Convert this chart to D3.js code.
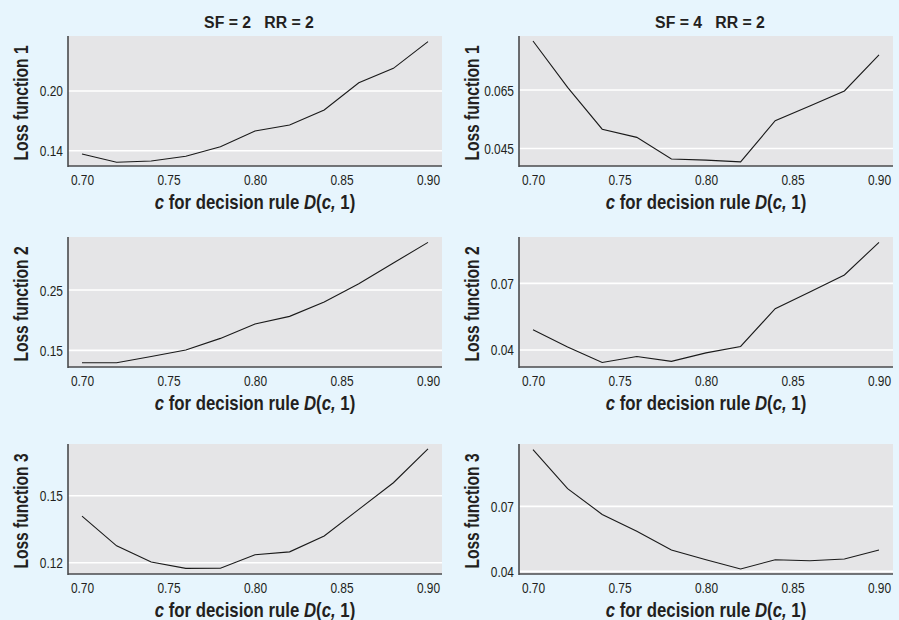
<!DOCTYPE html>
<html>
<head>
<meta charset="utf-8">
<script src="https://cdn.jsdelivr.net/npm/d3@7"></script>
<style>
  html, body { margin: 0; padding: 0; background: #e7f5fd; }
  svg { display: block; }
  text { font-family: "Liberation Sans", Arial, sans-serif; fill: #231f20; }
</style>
</head>
<body>
<svg id="chart" width="899" height="620"></svg>
<script>
// Decision threshold c
const cValues = [0.70, 0.72, 0.74, 0.76, 0.78, 0.80, 0.82, 0.84, 0.86, 0.88, 0.90];
const xTicks = [0.70, 0.75, 0.80, 0.85, 0.90];

// Column headers and row titles
const columnTitles = ["SF = 2   RR = 2", "SF = 4   RR = 2"];
const rowLabels = ["Loss function 1", "Loss function 2", "Loss function 3"];

// Expected loss for each scenario (SF = 2 column, SF = 4 column)
const loss1SF2 = [0.1367, 0.1283, 0.1296, 0.1344, 0.1440, 0.1598, 0.1658, 0.1809, 0.2083, 0.2228, 0.2496];
const loss1SF4 = [0.0818, 0.0659, 0.0516, 0.0488, 0.0414, 0.0410, 0.0404, 0.0545, 0.0595, 0.0647, 0.0770];
const loss2SF2 = [0.1296, 0.1296, 0.1400, 0.1506, 0.1699, 0.1938, 0.2064, 0.2303, 0.2604, 0.2948, 0.3290];
const loss2SF4 = [0.0491, 0.0414, 0.0344, 0.0371, 0.0349, 0.0387, 0.0416, 0.0586, 0.0661, 0.0738, 0.0885];
const loss3SF2 = [0.1409, 0.1276, 0.1204, 0.1175, 0.1176, 0.1236, 0.1249, 0.1320, 0.1439, 0.1558, 0.1709];
const loss3SF4 = [0.0962, 0.0782, 0.0663, 0.0585, 0.0499, 0.0454, 0.0411, 0.0454, 0.0449, 0.0457, 0.0499];

// Tick labels on each y axis
const yTicks1SF2 = ["0.14", "0.20"];
const yTicks1SF4 = ["0.045", "0.065"];
const yTicks2SF2 = ["0.15", "0.25"];
const yTicks2SF4 = ["0.04", "0.07"];
const yTicks3SF2 = ["0.12", "0.15"];
const yTicks3SF4 = ["0.04", "0.07"];

// Visible y range of each panel
const yRange1SF2 = [0.1246, 0.2553];
const yRange1SF4 = [0.0390, 0.0835];
const yRange2SF2 = [0.1225, 0.3379];
const yRange2SF4 = [0.03235, 0.0909];
const yRange3SF2 = [0.1150, 0.1731];
const yRange3SF4 = [0.0388, 0.0988];

const panels = [
  { row: 0, col: 0, values: loss1SF2, ticks: yTicks1SF2, domain: yRange1SF2 },
  { row: 0, col: 1, values: loss1SF4, ticks: yTicks1SF4, domain: yRange1SF4 },
  { row: 1, col: 0, values: loss2SF2, ticks: yTicks2SF2, domain: yRange2SF2 },
  { row: 1, col: 1, values: loss2SF4, ticks: yTicks2SF4, domain: yRange2SF4 },
  { row: 2, col: 0, values: loss3SF2, ticks: yTicks3SF2, domain: yRange3SF2 },
  { row: 2, col: 1, values: loss3SF4, ticks: yTicks3SF4, domain: yRange3SF4 }
];

const svg = d3.select("#chart");
const colLeft = [68, 519];
const rowTop = [36, 237, 444];
const plotW = 374, plotH = 130;

const x = d3.scaleLinear().domain([0.70, 0.90]).range([14, plotW - 14]);

// Condensed type: scale each label horizontally about its anchor point
function squeeze(sel, ratio) {
  sel.each(function () {
    const ax = +this.getAttribute("x") || 0;
    const prev = this.getAttribute("transform") || "";
    this.setAttribute("transform",
      `${prev} translate(${ax},0) scale(${ratio},1) translate(${-ax},0)`.trim());
  });
}

// Column titles
columnTitles.forEach((t, i) => {
  const tt = svg.append("text")
    .attr("x", colLeft[i] + plotW / 2 + 4)
    .attr("y", 28)
    .attr("text-anchor", "middle")
    .attr("xml:space", "preserve")
    .style("white-space", "pre")
    .style("font-size", "17px")
    .style("font-weight", "bold")
    .text(t);
  squeeze(tt, 0.93);
});

panels.forEach(p => {
  const g = svg.append("g").attr("transform", `translate(${colLeft[p.col]},${rowTop[p.row]})`);
  const y = d3.scaleLinear().domain(p.domain).range([plotH, 0]);

  g.append("rect").attr("width", plotW).attr("height", plotH).attr("fill", "#e5e5e7");

  // white gridlines at labelled values
  g.selectAll("line.grid").data(p.ticks).join("line")
    .attr("class", "grid")
    .attr("x1", 0).attr("x2", plotW)
    .attr("y1", d => y(+d)).attr("y2", d => y(+d))
    .attr("stroke", "#ffffff").attr("stroke-width", 1.6);

  // y axis
  const yAxis = d3.axisLeft(y).tickValues(p.ticks.map(Number)).tickSize(0).tickPadding(5)
    .tickFormat((d, i) => p.ticks[i]);
  const ya = g.append("g").call(yAxis);
  ya.select(".domain").remove();
  ya.selectAll("text").style("font-size", "15.5px").style("font-family", null).attr("fill", "#231f20");
  squeeze(ya.selectAll("text"), 0.77);

  // x axis
  const xAxis = d3.axisBottom(x).tickValues(xTicks).tickSize(0).tickPadding(8)
    .tickFormat(d3.format(".2f"));
  const xa = g.append("g").attr("transform", `translate(0,${plotH})`).call(xAxis);
  xa.select(".domain").remove();
  xa.selectAll("text").style("font-size", "15.5px").style("font-family", null).attr("fill", "#231f20");
  squeeze(xa.selectAll("text"), 0.77);

  // axis lines
  g.append("line").attr("x1", 0).attr("x2", 0).attr("y1", 0).attr("y2", plotH + 1)
    .attr("stroke", "#4a4a4c").attr("stroke-width", 1.6);
  g.append("line").attr("x1", 0).attr("x2", plotW).attr("y1", plotH).attr("y2", plotH)
    .attr("stroke", "#4a4a4c").attr("stroke-width", 1.6);

  // loss curve
  const line = d3.line().x((d, i) => x(cValues[i])).y(d => y(d));
  g.append("path").datum(p.values)
    .attr("d", line)
    .attr("fill", "none").attr("stroke", "#1a1a1a").attr("stroke-width", 1.1);

  // y axis title
  const yt = g.append("text")
    .attr("transform", `translate(-40,${plotH / 2 + 2}) rotate(-90)`)
    .attr("text-anchor", "middle")
    .style("font-size", "20px").style("font-weight", "bold")
    .text(rowLabels[p.row]);
  squeeze(yt, 0.78);

  // x axis title
  const xt = g.append("text")
    .attr("x", plotW / 2)
    .attr("y", plotH + 43)
    .attr("text-anchor", "middle")
    .style("font-size", "20px").style("font-weight", "bold");
  xt.append("tspan").style("font-style", "italic").text("c");
  xt.append("tspan").text(" for decision rule ");
  xt.append("tspan").style("font-style", "italic").text("D");
  xt.append("tspan").text("(");
  xt.append("tspan").style("font-style", "italic").text("c,");
  xt.append("tspan").text(" 1)");
  squeeze(xt, 0.84);
});
</script>
</body>
</html>
